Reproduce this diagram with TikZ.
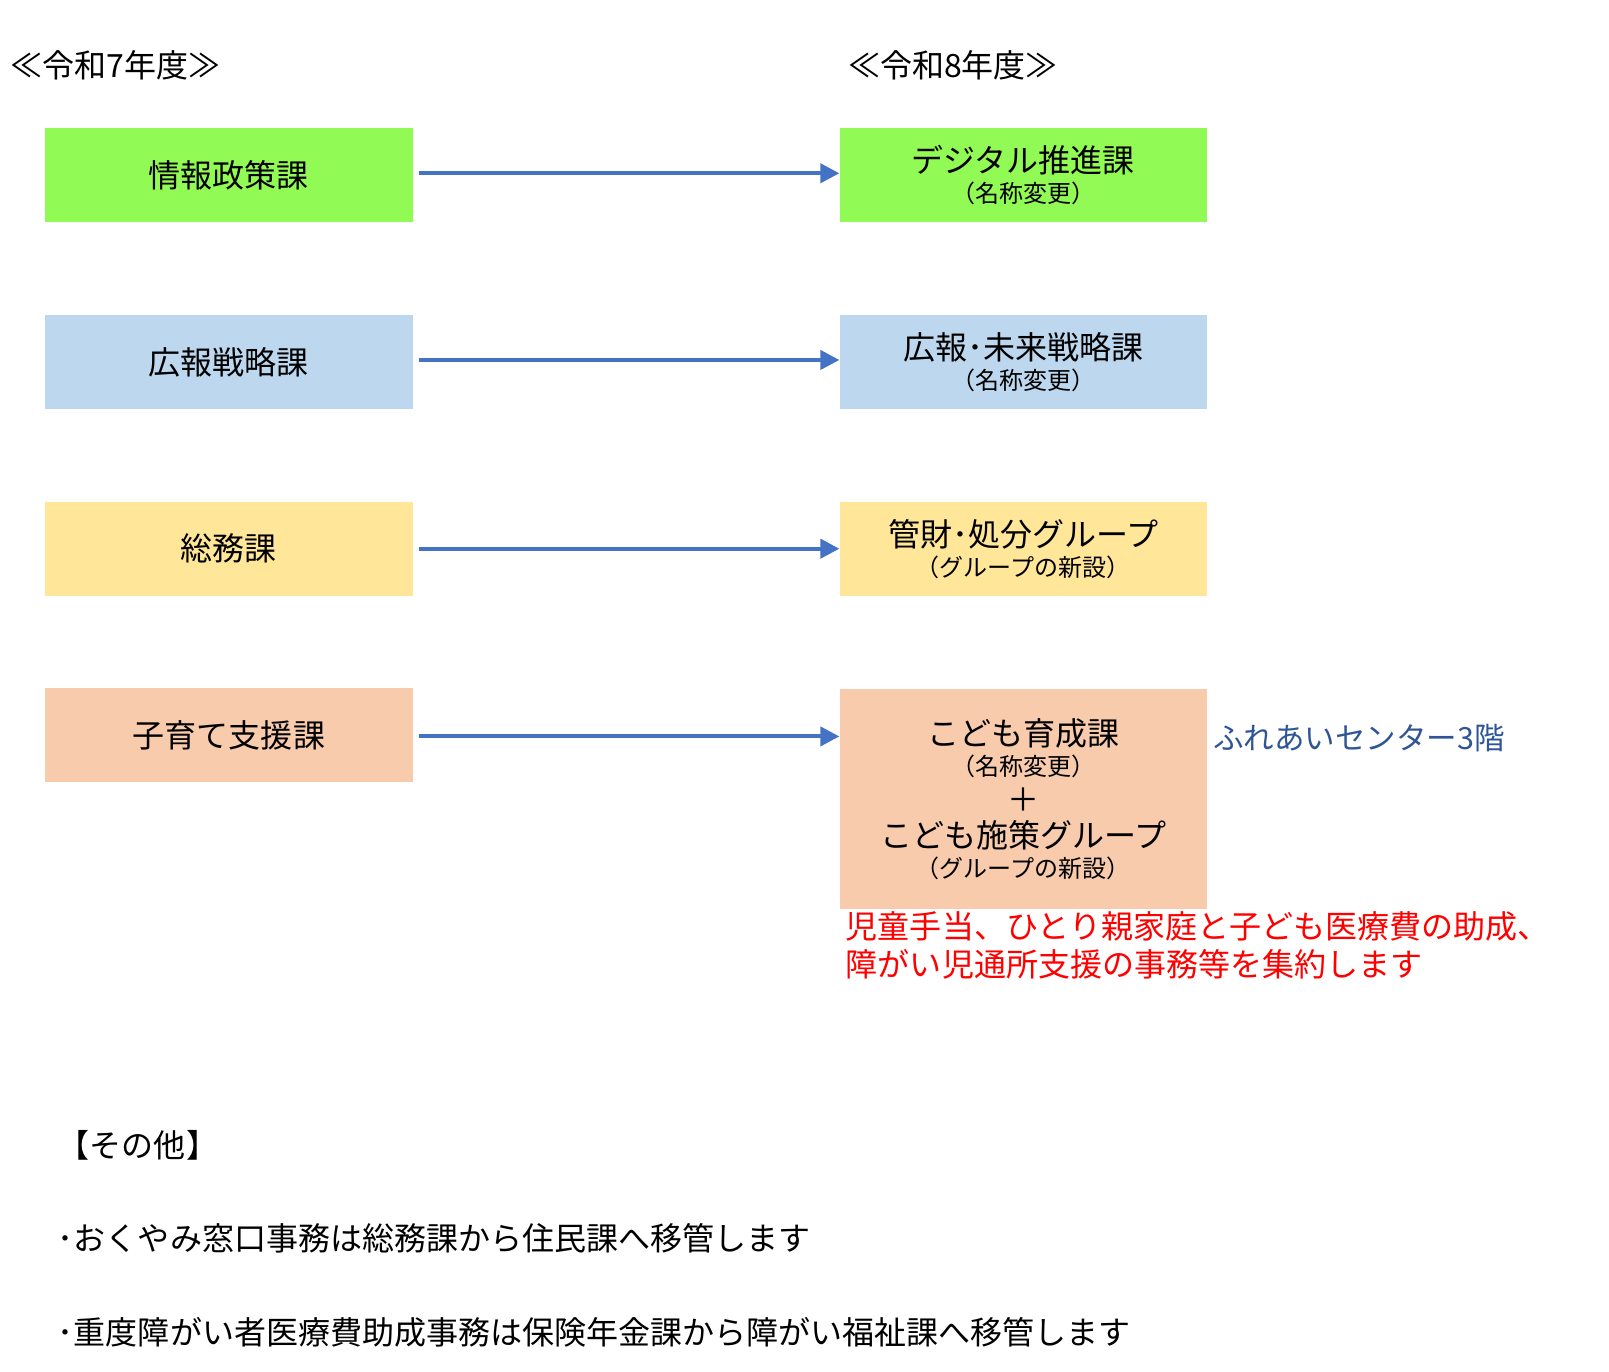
\documentclass[tikz,border=0pt]{standalone}
\usepackage{fontspec}
\newfontfamily\jp{Noto Sans CJK JP}
\usetikzlibrary{arrows.meta}
\tikzset{
  ka/.style={minimum width=367pt, minimum height=94pt, inner sep=0pt, align=center, font=\jp\fontsize{32}{38}\selectfont},
  ya/.style={draw={rgb,255:red,68;green,114;blue,196}, line width=4pt, -{Triangle[length=19pt,width=19pt]}},
  hon/.style={font=\jp\fontsize{32}{38}\selectfont}
}
\newcommand{\kakko}[1]{{\fontsize{24}{28}\selectfont #1}}
\definecolor{midori}{HTML}{92FA55}
\definecolor{ao}{HTML}{BDD7EE}
\definecolor{kiiro}{HTML}{FFE699}
\definecolor{momo}{HTML}{F8CBAD}
\definecolor{aomoji}{HTML}{2F5597}
\begin{document}
\begin{tikzpicture}[x=1.031pt,y=-1.031pt]
\useasboundingbox (0,0) rectangle (1560,1330);
% midashi
\node[anchor=west, hon, inner sep=0pt] (r7) at (10,63) {≪令和7年度≫};
\node[anchor=west, hon, inner sep=0pt] (r8) at (822,63) {≪令和8年度≫};

% hidari
\node[ka, fill=midori] (k1) at (222,170) {情報政策課};
\node[ka, fill=ao] (k2) at (222,351) {広報戦略課};
\node[ka, fill=kiiro] (k3) at (222,532) {総務課};
\node[ka, fill=momo] (k4) at (222,713) {子育て支援課};

% migi
\node[ka, fill=midori] (n1) at (992,170) {デジタル推進課\\[-8pt]\kakko{（名称変更）}};
\node[ka, fill=ao] (n2) at (992,351) {広報･未来戦略課\\[-8pt]\kakko{（名称変更）}};
\node[ka, fill=kiiro] (n3) at (992,532) {管財･処分グループ\\[-8pt]\kakko{（グループの新設）}};
\node[ka, fill=momo, minimum height=220pt] (n4) at (992,775) {こども育成課\\[-8pt]\kakko{（名称変更）}\\[-2pt]＋\\[-2pt]こども施策グループ\\[-8pt]\kakko{（グループの新設）}};

\draw[ya] (k1.east) ++(6,-2) coordinate (a1) (a1) -- (n1.west |- a1);
\draw[ya] (k2.east) ++(6,-2) coordinate (a2) (a2) -- (n2.west |- a2);
\draw[ya] (k3.east) ++(6,0) coordinate (a3) (a3) -- (n3.west |- a3);
\draw[ya] (k4.east) ++(6,1) coordinate (a4) (a4) -- (n4.west |- a4);

\node[anchor=west, inner sep=0pt, font=\jp\fontsize{30.5}{36}\selectfont, text=aomoji] (basho) at (1176,716) {ふれあいセンター3階};
\node[anchor=north west, align=left, font=\jp\fontsize{32}{38}\selectfont, text=red, inner sep=0pt] (chu) at (820,884) {児童手当、ひとり親家庭と子ども医療費の助成、\\障がい児通所支援の事務等を集約します};

% sonota
\node[anchor=west, hon, inner sep=0pt] (hoka) at (56,1110) {【その他】};
\node[anchor=west, hon, inner sep=0pt] (b1) at (56,1201) {･おくやみ窓口事務は総務課から住民課へ移管します};
\node[anchor=west, hon, inner sep=0pt] (b2) at (56,1292) {･重度障がい者医療費助成事務は保険年金課から障がい福祉課へ移管します};
\end{tikzpicture}
\end{document}
